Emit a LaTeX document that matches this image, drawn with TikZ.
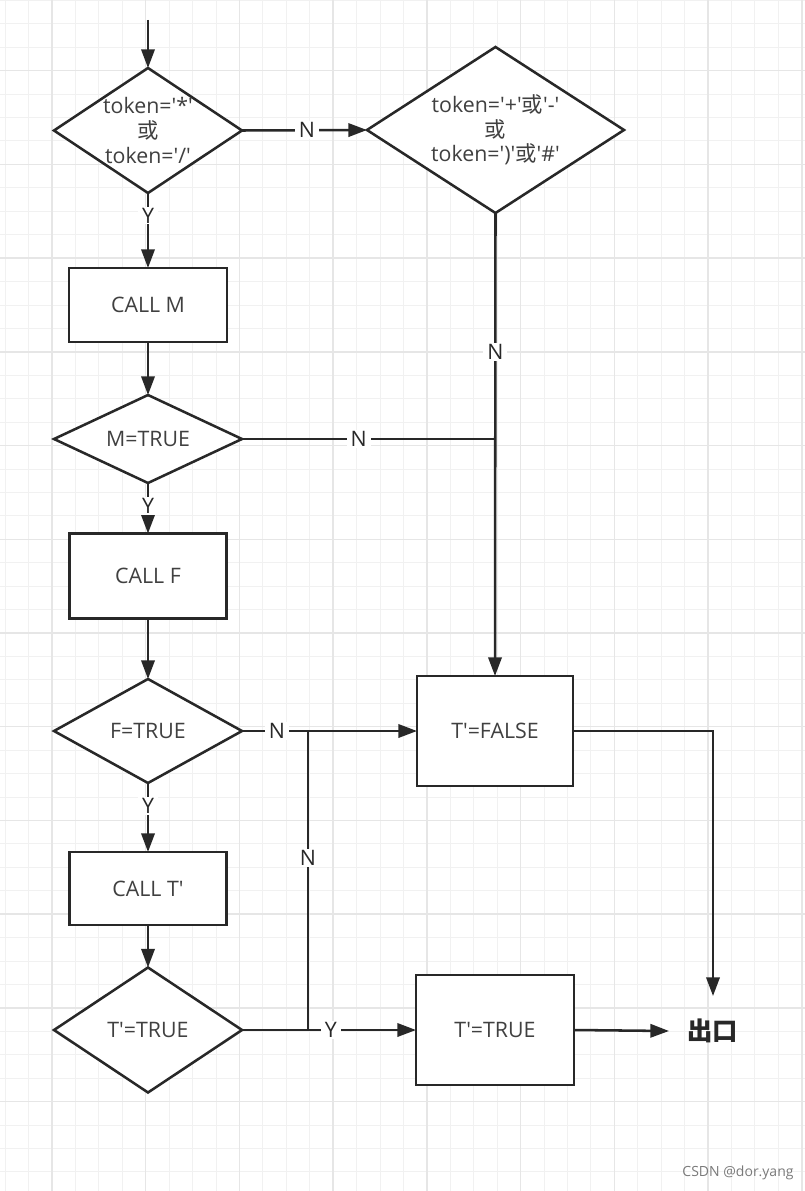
\documentclass[tikz,border=0pt]{standalone}
\usepackage{fontspec}
\setmainfont{Open Sans}[Ligatures=TeXOff]
\newfontfamily\cjk{Noto Sans CJK SC}
\usetikzlibrary{arrows.meta,shapes.geometric}
\definecolor{gridminor}{HTML}{F1F1F1}
\definecolor{gridmajor}{HTML}{E6E6E6}
\definecolor{ink}{HTML}{282828}
\definecolor{txtc}{HTML}{404040}
\definecolor{wmc}{HTML}{7A7A7A}
\begin{document}
\begin{tikzpicture}[x=0.75pt,y=-0.75pt,
  conn/.style={draw=ink, line width=1.9pt},
  arr/.style={conn, -{Triangle[length=14pt,width=10pt]}},
  dia/.style n args={2}{shape=diamond, draw=ink, line width=1.9pt, fill=white,
     inner sep=0pt, outer sep=0pt, minimum width=#1, minimum height=#2},
  box/.style n args={2}{rectangle, draw=ink, line width=1.9pt, fill=white,
     inner sep=0pt, outer sep=0pt, minimum width=#1, minimum height=#2,
     text=txtc, font=\fontsize{16}{18.4}\selectfont},
  txt/.style={text=txtc, font=\fontsize{16}{18.4}\selectfont, align=center, inner sep=0pt},
  lab/.style={fill=white, text=ink, font=\fontsize{16}{18}\selectfont, inner xsep=3pt, inner ysep=1pt}
]
% background and grid
\fill[white] (0,0) rectangle (805,1191);
\useasboundingbox (0,0) rectangle (805,1191);
\foreach \k in {-2,...,32}
  \draw[gridminor, line width=0.75pt] ({52+\k*23.43},0) -- ({52+\k*23.43},1191);
\foreach \k in {-3,...,47}
  \draw[gridminor, line width=0.75pt] (0,{70.7+\k*23.43}) -- (805,{70.7+\k*23.43});
\foreach \k in {0,4,...,32}
  \draw[gridmajor, line width=1.1pt] ({52+\k*23.43},0) -- ({52+\k*23.43},1191);
\foreach \k in {0,4,...,44}
  \draw[gridmajor, line width=1.1pt] (0,{70.7+\k*23.43}) -- (805,{70.7+\k*23.43});

% shapes
\node[dia={141pt}{93.75pt}] (d1) at (148,130.5) {};
\node[txt] (d1t) at (d1) {token='*'\\{\cjk 或}\\token='/'};
\node[dia={192.75pt}{124.5pt}] (d2) at (495.5,130) {};
\node[txt] (d2t) at (d2) {token='+'{\cjk 或}'-'\\{\cjk 或}\\token=')'{\cjk 或}'\#'};
\node[box={118.5pt}{55.5pt}] (b1) at (148,305) {CALL M};
\node[dia={141pt}{66pt}] (d3) at (148,439) {};
\node[txt] (d3t) at (d3) {M=TRUE};
\node[box={117.75pt}{63.75pt}] (b2) at (148,576) {CALL F};
\node[dia={141pt}{78pt}] (d4) at (148,731) {};
\node[txt] (d4t) at (d4) {F=TRUE};
\node[box={117.75pt}{54.75pt}] (b3) at (148,888.5) {CALL T'};
\node[dia={141pt}{93.75pt}] (d5) at (148,1030) {};
\node[txt] (d5t) at (d5) {T'=TRUE};
\node[box={117pt}{82.5pt}] (b4) at (495,731) {T'=FALSE};
\node[box={118.5pt}{82.5pt}] (b5) at (495,1030) {T'=TRUE};
\node[text=ink, font=\fontsize{19}{22}\selectfont\cjk\bfseries, anchor=west,
      inner xsep=13.5pt, inner ysep=0pt, outer sep=0pt] (exit) at (669,1031) {出口};
\node[text=wmc, font=\fontsize{10.5}{12}\selectfont] (wm) at (738,1173) {CSDN @dor.yang};

% coordinates
\coordinate (s0) at (148,20);
\coordinate (j1) at (d2.south |- d3.east);
\coordinate (j2) at (308,731);
\coordinate (j3) at (308,1030);
\coordinate (e1) at (713,996);

% connectors
\draw[arr] (s0) -- (d1.north);
\draw[arr] (d1.south) -- node[lab,pos=0.3]{Y} (b1.north);
\draw[arr] (b1.south) -- (d3.north);
\draw[arr] (d3.south) -- node[lab,pos=0.45]{Y} (b2.north);
\draw[arr] (b2.south) -- (d4.north);
\draw[arr] (d4.south) -- node[lab,pos=0.33]{Y} (b3.north);
\draw[arr] (b3.south) -- (d5.north);
\draw[arr] (d1.east) -- node[lab,pos=0.52]{N} (d2.west);
\draw[arr] (d2.south) -- node[lab,pos=0.30]{N} (b4.north);
\draw[conn] (d3.east) -- node[lab,pos=0.46]{N} (j1);
\draw[arr] (d4.east) -- node[lab,pos=0.2]{N} (b4.west);
\draw[conn] (j2) -- node[lab,pos=0.425]{N} (j3);
\draw[arr] (d5.east) -- node[lab,pos=0.51]{Y} (b5.west);
\draw[arr] (b5.east) -- (exit.west);
\draw[arr] (b4.east) -| (e1);
\end{tikzpicture}
\end{document}
